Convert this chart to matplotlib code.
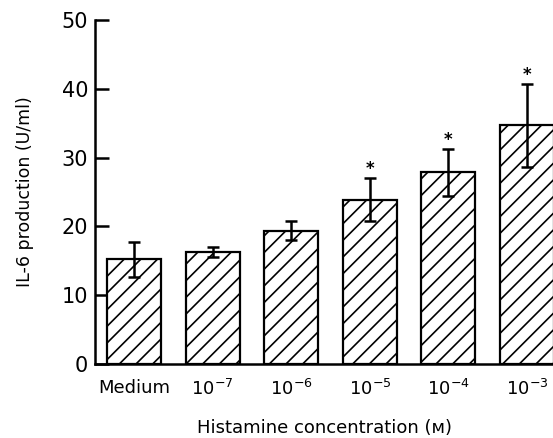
import matplotlib
matplotlib.use("Agg")
import matplotlib.pyplot as plt
import numpy as np

categories = ["Medium", r"$10^{-7}$", r"$10^{-6}$", r"$10^{-5}$", r"$10^{-4}$", r"$10^{-3}$"]
il6_values = [15.2, 16.3, 19.4, 23.9, 27.9, 34.7]
il6_errors = [2.6, 0.7, 1.4, 3.1, 3.4, 6.0]
significant = [False, False, False, True, True, True]
yticks = [0, 10, 20, 30, 40, 50]

plt.rcParams['font.family'] = ['DejaVu Sans']
plt.rcParams['mathtext.default'] = 'regular'
plt.rcParams['hatch.linewidth'] = 1.2

fig = plt.figure(figsize=(5.53, 4.38), dpi=100)
ax = fig.add_axes([0.1718, 0.169, 1 - 0.1718, 0.785])

x = np.arange(len(categories))
ax.bar(x, il6_values, width=0.687, color='white', edgecolor='black',
       linewidth=1.6, hatch='//', zorder=2)
ax.errorbar(x, il6_values, yerr=il6_errors, fmt='none', ecolor='black',
            elinewidth=1.8, capsize=4.5, capthick=1.8, zorder=3)
for xi, v, e, s in zip(x, il6_values, il6_errors, significant):
    if s:
        ax.annotate('*', (xi, v + e), xytext=(0, 0), textcoords='offset points',
                    ha='center', va='bottom', fontsize=12, fontweight='bold')

ax.set_xlim(-0.496, 5.33)
ax.set_ylim(0, 50)
ax.set_yticks(yticks)
ax.set_xticks(x)
ax.set_xticklabels(categories)
for sp in ['top', 'right']:
    ax.spines[sp].set_visible(False)
ax.spines['left'].set_linewidth(1.8)
ax.spines['bottom'].set_linewidth(1.8)
ax.tick_params(axis='y', direction='in', length=10, width=1.8, labelsize=15, pad=5)
ax.tick_params(axis='x', length=0, labelsize=13, pad=11)
ax.set_ylabel('IL-6 production (U/ml)', fontsize=12.5, labelpad=20)
ax.set_xlabel('Histamine concentration (\u1d0d)', fontsize=13, labelpad=14)

fig.savefig('out.png', dpi=100)
